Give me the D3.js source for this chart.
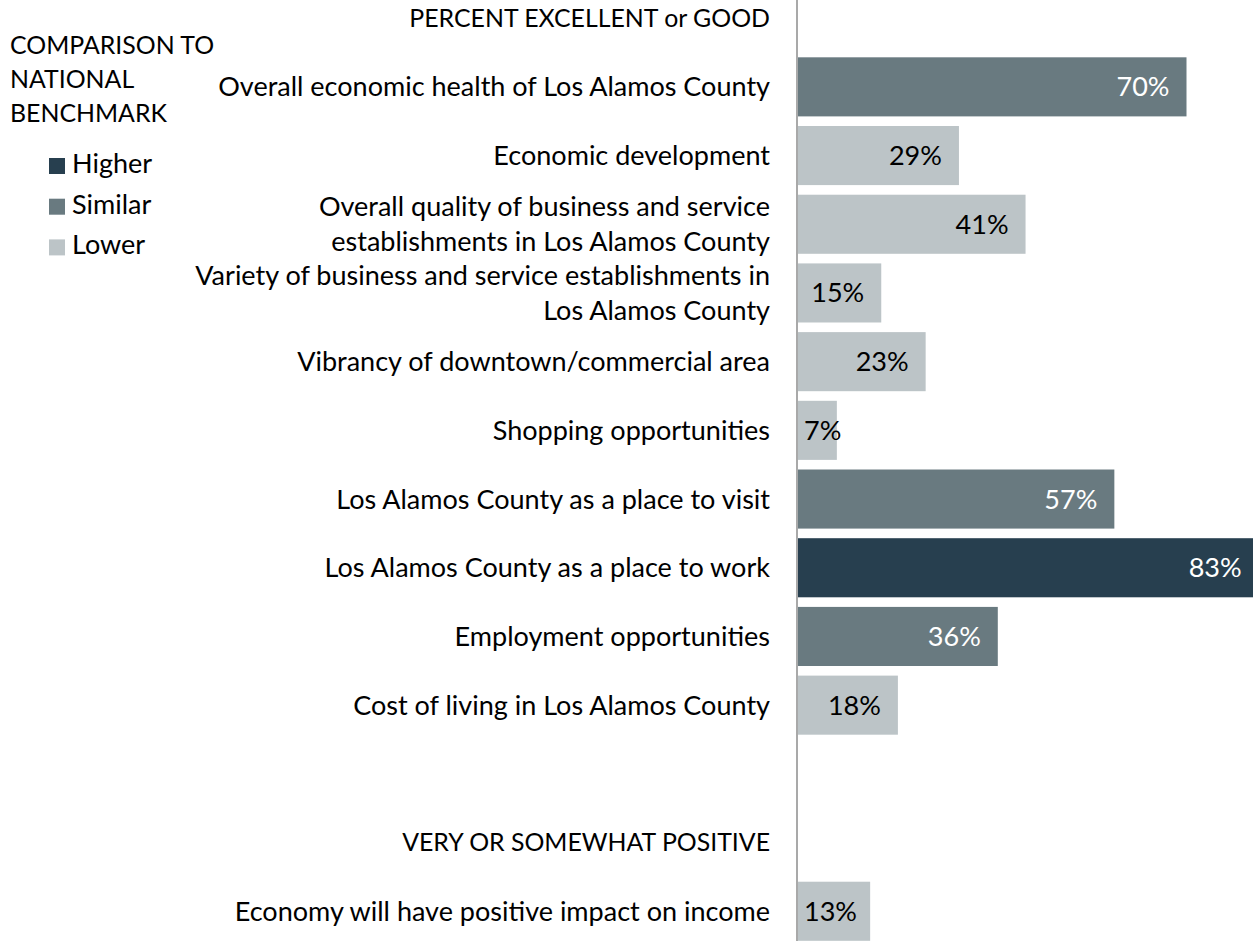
<!DOCTYPE html>
<html>
<head>
<meta charset="utf-8">
<script src="https://cdn.jsdelivr.net/npm/d3@7"></script>
<style>
  html, body { margin: 0; padding: 0; background: #fff; }
  svg { display: block; font-family: Lato, "Open Sans", sans-serif; }
</style>
</head>
<body>
<script>
// Data
const headerTop = 'PERCENT EXCELLENT or GOOD';
const categories = [
  'Overall economic health of Los Alamos County',
  'Economic development',
  'Overall quality of business and service establishments in Los Alamos County',
  'Variety of business and service establishments in Los Alamos County',
  'Vibrancy of downtown/commercial area',
  'Shopping opportunities',
  'Los Alamos County as a place to visit',
  'Los Alamos County as a place to work',
  'Employment opportunities',
  'Cost of living in Los Alamos County'
];
const values = [70, 29, 41, 15, 23, 7, 57, 83, 36, 18];
const benchmark = ['Similar', 'Lower', 'Lower', 'Lower', 'Lower', 'Lower', 'Similar', 'Higher', 'Similar', 'Lower'];

const headerBottom = 'VERY OR SOMEWHAT POSITIVE';
const categories2 = ['Economy will have positive impact on income'];
const values2 = [13];
const benchmark2 = ['Lower'];

const legendTitle = ['COMPARISON TO', 'NATIONAL', 'BENCHMARK'];
const legendKeys = ['Higher', 'Similar', 'Lower'];

// Dimensions
const width = 1253;
const height = 941;
const axisX = 797;
const labelRight = 770;

const colors = { Higher: '#273f4f', Similar: '#697a80', Lower: '#bcc4c7' };
const textColors = { Higher: '#ffffff', Similar: '#ffffff', Lower: '#000000' };

// Row list: headers, bars, and a spacer
const rows = [{ label: headerTop, type: 'header' }]
  .concat(categories.map((c, i) => ({ label: c, value: values[i], bench: benchmark[i], type: 'bar' })))
  .concat([{ label: '', type: 'blank' }, { label: headerBottom, type: 'header' }])
  .concat(categories2.map((c, i) => ({ label: c, value: values2[i], bench: benchmark2[i], type: 'bar' })));
rows.forEach((r, i) => r.id = i);

const svg = d3.select('body')
  .append('svg')
  .attr('width', width)
  .attr('height', height)
  .style('overflow', 'hidden');

// Fit font size to the reference's text widths
const probe = svg.append('text').attr('font-size', 100).text(categories[0]);
const fontSize = 100 * 552 / probe.node().getComputedTextLength();
probe.remove();
const capsSize = fontSize * 0.92;  // uppercase runs narrower in the original font
const lineH = 35;

// Scales
const step = 68.7;
const y = d3.scaleBand()
  .domain(rows.map(r => r.id))
  .range([-16.2, -16.2 + rows.length * step])
  .paddingInner(0.14)
  .paddingOuter(0.07);

const x = d3.scaleLinear()
  .domain([0, 100])
  .range([axisX + 1, axisX + 1 + 555]);

// Bars
const barRows = rows.filter(r => r.type === 'bar');
svg.selectAll('rect.bar')
  .data(barRows)
  .enter()
  .append('rect')
  .attr('class', 'bar')
  .attr('x', x(0))
  .attr('y', d => y(d.id))
  .attr('width', d => x(d.value) - x(0))
  .attr('height', y.bandwidth())
  .attr('fill', d => colors[d.bench]);

// Value labels
svg.selectAll('text.value')
  .data(barRows)
  .enter()
  .append('text')
  .attr('class', 'value')
  .attr('font-size', fontSize)
  .attr('fill', d => textColors[d.bench])
  .attr('y', d => y(d.id) + y.bandwidth() / 2)
  .attr('dy', '0.35em')
  .text(d => d.value + '%')
  .each(function (d) {
    const w = this.getComputedTextLength();
    const right = Math.max(x(d.value) - 17, x(0) + 6 + w);
    d3.select(this).attr('x', right).attr('text-anchor', 'end');
  });

// Axis line
svg.append('line')
  .attr('x1', axisX).attr('x2', axisX)
  .attr('y1', 0).attr('y2', height)
  .attr('stroke', '#8c8c8c')
  .attr('stroke-width', 1.5);

// Category labels with word wrap
const maxW = 600;
svg.selectAll('text.cat')
  .data(rows.filter(r => r.label))
  .enter()
  .append('text')
  .attr('class', 'cat')
  .attr('font-size', d => d.type === 'header' ? capsSize : fontSize)
  .attr('fill', '#000')
  .attr('text-anchor', 'end')
  .each(function (d) {
    const t = d3.select(this);
    const words = d.label.split(' ');
    const lines = [];
    let line = [];
    const tmp = t.append('tspan');
    words.forEach(w => {
      line.push(w);
      tmp.text(line.join(' '));
      if (tmp.node().getComputedTextLength() > maxW && line.length > 1) {
        line.pop();
        lines.push(line.join(' '));
        line = [w];
      }
    });
    lines.push(line.join(' '));
    tmp.remove();
    const cy = y(d.id) + y.bandwidth() / 2;
    const startY = cy - (lines.length - 1) * lineH / 2;
    lines.forEach((l, i) => {
      t.append('tspan')
        .attr('x', labelRight)
        .attr('y', startY + i * lineH)
        .attr('dy', '0.35em')
        .text(l);
    });
  });

// Legend
const legend = svg.append('g');
legend.selectAll('text.title')
  .data(legendTitle)
  .enter()
  .append('text')
  .attr('class', 'title')
  .attr('x', 10)
  .attr('y', (d, i) => 54 + i * 34)
  .attr('font-size', capsSize)
  .text(d => d);

const key = legend.selectAll('g.key')
  .data(legendKeys)
  .enter()
  .append('g')
  .attr('class', 'key')
  .attr('transform', (d, i) => `translate(49, ${158 + i * 40.7})`);

key.append('rect')
  .attr('width', 16)
  .attr('height', 16)
  .attr('fill', d => colors[d]);

key.append('text')
  .attr('x', 23)
  .attr('y', 15)
  .attr('font-size', fontSize)
  .text(d => d);
</script>
</body>
</html>
